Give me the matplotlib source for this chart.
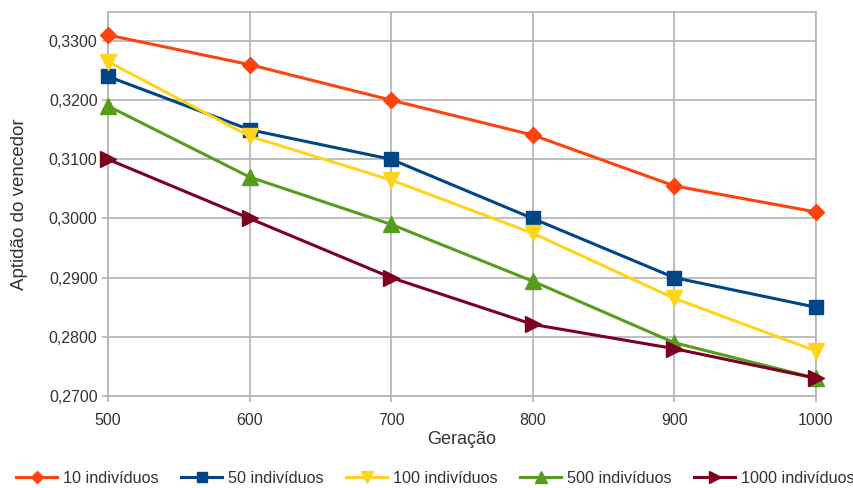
import matplotlib.pyplot as plt
from matplotlib.ticker import FuncFormatter

plt.rcParams['font.family'] = ['Liberation Sans', 'DejaVu Sans']

geracao = [500, 600, 700, 800, 900, 1000]
ind_10 = [0.3310, 0.3260, 0.3200, 0.3141, 0.3055, 0.3011]
ind_50 = [0.3240, 0.3150, 0.3100, 0.3000, 0.2900, 0.2850]
ind_100 = [0.3265, 0.3139, 0.3065, 0.2975, 0.2865, 0.2776]
ind_500 = [0.3190, 0.3070, 0.2990, 0.2894, 0.2790, 0.2730]
ind_1000 = [0.3100, 0.3000, 0.2900, 0.2821, 0.2780, 0.2730]

series = [
    ('10 indivíduos', ind_10, '#ff420e', 'D', 8),
    ('50 indivíduos', ind_50, '#004586', 's', 10.5),
    ('100 indivíduos', ind_100, '#ffd320', 'v', 11),
    ('500 indivíduos', ind_500, '#579d1c', '^', 11),
    ('1000 indivíduos', ind_1000, '#7e0021', '>', 11),
]

fig = plt.figure(figsize=(8.54, 4.88), dpi=100)
ax = fig.add_axes([0.1265, 0.1885, 0.829, 0.787])

for name, vals, color, mk, ms in series:
    ax.plot(geracao, vals, color=color, lw=2.2, marker=mk, markersize=ms,
            label=name, clip_on=False, zorder=3)

ax.set_xlim(500, 1000)
ax.set_ylim(0.27, 0.3349)
ax.set_xticks(geracao)
ax.set_yticks([0.27, 0.28, 0.29, 0.30, 0.31, 0.32, 0.33])
ax.yaxis.set_major_formatter(FuncFormatter(lambda v, p: f'{v:.4f}'.replace('.', ',')))

ax.grid(True, color='#b3b3b3', lw=1.2)
for s in ax.spines.values():
    s.set_color('#b3b3b3')
    s.set_linewidth(1.2)
ax.tick_params(colors='#b3b3b3', labelcolor='#333333', labelsize=11.5,
               length=4, width=1.2)
ax.tick_params(axis='x', pad=8)

ax.set_xlabel('Geração', fontsize=13, color='#333333')
ax.set_ylabel('Aptidão do vencedor', fontsize=13.5, color='#333333')
ax.xaxis.set_label_coords(0.5, -0.09)
ax.yaxis.set_label_coords(-0.113, 0.5)

fig.legend(loc='center left', bbox_to_anchor=(0.019, 0.02), ncol=5, frameon=False,
           fontsize=11.7, handlelength=2.5, handletextpad=0.37, columnspacing=1.4,
           markerscale=0.75, labelcolor='#333333', borderaxespad=0, borderpad=0)

fig.savefig('out.png', dpi=100)
